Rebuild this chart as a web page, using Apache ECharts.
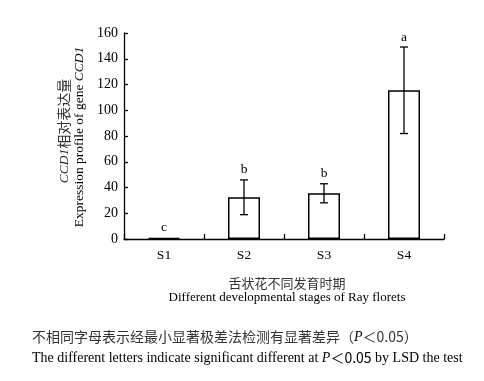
<!DOCTYPE html>
<html><head><meta charset="utf-8">
<script src="https://cdn.jsdelivr.net/npm/echarts@6/dist/echarts.min.js"></script>
<style>html,body{margin:0;padding:0;background:#fff}#c{width:484px;height:381px}</style>
</head><body><div id="c"></div>
<script>
var categories = ['S1','S2','S3','S4'];
var values = [0.8, 32.4, 35.5, 115.5];
var errors = [0.3, 13.5, 7.4, 33.6];
var letters = ['c','b','b','a'];
var yTicks = {min:0, max:160, interval:20};

var serif = '"Liberation Serif","Times New Roman",serif';
var cjk = '"Noto Sans CJK SC",sans-serif';
var chart = echarts.init(document.getElementById('c'), null, {renderer:'canvas'});
chart.setOption({
  animation:false,
  backgroundColor:'#fff',
  grid:{left:124, right:40, top:33, bottom:142},
  xAxis:{type:'category', data:categories,
    axisLine:{lineStyle:{color:'#000', width:1.3}},
    axisTick:{show:true, inside:true, length:5, lineStyle:{color:'#000', width:1.3}},
    axisLabel:{color:'#000', fontFamily:serif, fontSize:13.5, margin:9},
    splitLine:{show:false}},
  yAxis:{type:'value', min:yTicks.min, max:yTicks.max, interval:yTicks.interval,
    axisLine:{show:true, lineStyle:{color:'#000', width:1.3}},
    axisTick:{show:true, inside:true, length:4, lineStyle:{color:'#000', width:1.3}},
    axisLabel:{color:'#000', fontFamily:serif, fontSize:14, margin:6},
    splitLine:{show:false}},
  series:[
    {type:'bar', data:values, barWidth:32,
      itemStyle:{color:'#fff', borderColor:'#000', borderWidth:1.5}},
    {type:'custom', z:5,
      data: values.map(function(v,i){return [i, v, errors[i]];}),
      renderItem:function(params, api){
        var i = api.value(0), v = api.value(1), e = api.value(2);
        var hi = api.coord([i, v+e]), lo = api.coord([i, v-e]);
        var x = hi[0], w = 4;
        var ch = [];
        if (e > 1) {
          ch.push({type:'line', shape:{x1:x,y1:hi[1],x2:x,y2:lo[1]}, style:{stroke:'#000',lineWidth:1.3}});
          ch.push({type:'line', shape:{x1:x-w,y1:hi[1],x2:x+w,y2:hi[1]}, style:{stroke:'#000',lineWidth:1.3}});
          ch.push({type:'line', shape:{x1:x-w,y1:lo[1],x2:x+w,y2:lo[1]}, style:{stroke:'#000',lineWidth:1.3}});
        }
        ch.push({type:'text', style:{text:letters[params.dataIndex], x:x, y:hi[1]-10,
          textAlign:'center', textVerticalAlign:'middle', fill:'#000', font:'13.5px '+serif}});
        return {type:'group', children:ch};
      }}
  ],
  graphic:[
    {type:'text', x:64, y:131, rotation:Math.PI/2,
      style:{text:'{i|CCD1}{c|相对表达量}', align:'center', verticalAlign:'middle',
        rich:{i:{fontFamily:serif, fontStyle:'italic', fontSize:13.5, fill:'#222'},
              c:{fontFamily:cjk, fontSize:14, fill:'#333'}}}},
    {type:'text', x:79, y:137, rotation:Math.PI/2,
      style:{text:'{n|Expression profile of gene }{i|CCD1}', align:'center', verticalAlign:'middle',
        rich:{n:{fontFamily:serif, fontSize:13.5, fill:'#000'},
              i:{fontFamily:serif, fontStyle:'italic', fontSize:13.5, fill:'#000'}}}},
    {type:'text', x:287, y:283, style:{text:'舌状花不同发育时期', align:'center', verticalAlign:'middle',
      font:'13px '+cjk, fill:'#333'}},
    {type:'text', x:287, y:298, style:{text:'Different developmental stages of Ray florets', align:'center', verticalAlign:'middle',
      font:'13px '+serif, fill:'#000'}},
    {type:'text', x:32, y:337, style:{text:'{c|不相同字母表示经最小显著极差法检测有显著差异（}{i|P}{c|＜0.05）}', verticalAlign:'middle',
      rich:{c:{fontFamily:cjk, fontSize:14, fill:'#333'}, i:{fontFamily:serif, fontStyle:'italic', fontSize:14, fill:'#000'}}}},
    {type:'text', x:32, y:358, style:{text:'{n|The different letters indicate significant different at }{i|P}{s|＜0.05}{n| by LSD the test}', verticalAlign:'middle',
      rich:{n:{fontFamily:serif, fontSize:14, fill:'#000'}, i:{fontFamily:serif, fontStyle:'italic', fontSize:14, fill:'#000'},
            s:{fontFamily:cjk, fontSize:14, fill:'#000'}}}}
  ]
});
</script></body></html>
